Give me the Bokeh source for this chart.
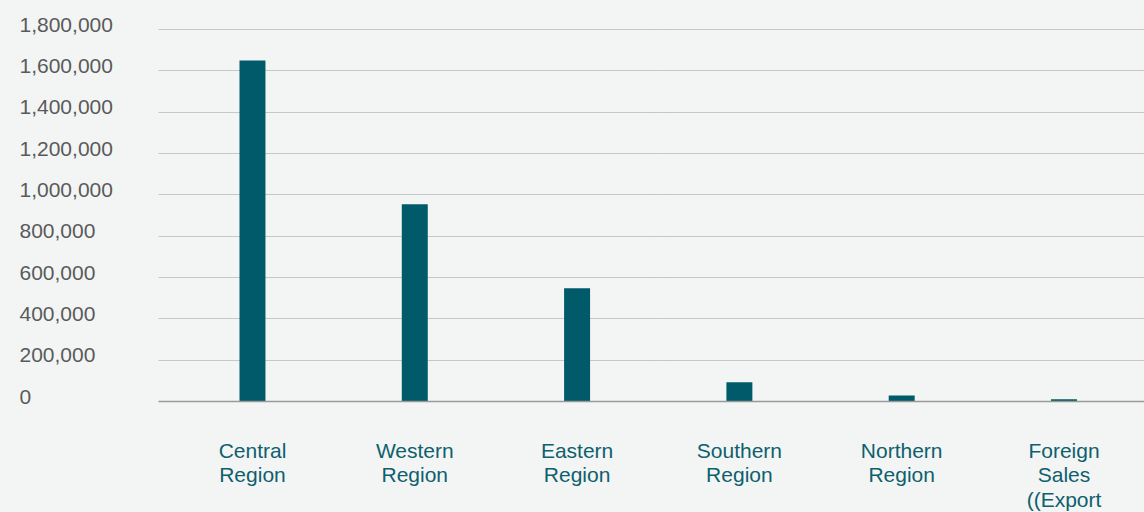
from bokeh.plotting import figure
from bokeh.models import (Range1d, FixedTicker, ColumnDataSource,
                          GlobalInlineStyleSheet)
from bokeh.layouts import row
from bokeh.core.properties import value
from bokeh.embed import file_html
from bokeh.resources import INLINE

categories = ["Central\nRegion", "Western\nRegion", "Eastern\nRegion",
              "Southern\nRegion", "Northern\nRegion", "Foreign\nSales\n((Export"]
values = [1650000, 955000, 548000, 93000, 29000, 11000]
y_ticks = [0, 200000, 400000, 600000, 800000, 1000000, 1200000, 1400000, 1600000, 1800000]
y_tick_labels = ["0", "200,000", "400,000", "600,000", "800,000", "1,000,000",
                 "1,200,000", "1,400,000", "1,600,000", "1,800,000"]

BG = "#f3f5f4"
BAR = "#015a6a"
XLAB = "#0f5f6e"
YLAB = "#5a5a5a"
FONT = "Liberation Sans"

# layout (pixels)
LEFT_W = 158          # width of the label column
FRAME_W = 986         # plot area width
FRAME_H = 401         # plot area height (top of page to zero line)
TOP_GAP = 29          # space above the top gridline
LEFT_EXTRA = 30       # label column reaches a little below the zero line
Y_MAX = y_ticks[-1]
ppu = (FRAME_H - TOP_GAP) / Y_MAX          # pixels per unit
y_end = FRAME_H / ppu

x = list(range(len(categories)))
src = ColumnDataSource(dict(x=x, top=values))
ysrc = ColumnDataSource(dict(x=[0] * len(y_ticks), y=y_ticks, label=y_tick_labels))

# ---- label column (y tick labels, left aligned) ----
pl = figure(frame_width=LEFT_W, frame_height=FRAME_H + LEFT_EXTRA, output_backend="svg",
            toolbar_location=None, x_range=Range1d(-19, LEFT_W - 19),
            y_range=Range1d(-LEFT_EXTRA / ppu, y_end),
            min_border_left=0, min_border_right=0, min_border_top=0, min_border_bottom=0)
pl.background_fill_color = BG
pl.border_fill_color = BG
pl.outline_line_color = None
pl.axis.visible = False
pl.grid.visible = False
pl.text(x="x", y="y", text="label", source=ysrc, text_align="left",
        text_baseline="middle", y_offset=-5,
        text_font=value(FONT), text_font_size="21px", text_color=YLAB)

# ---- main chart ----
p = figure(frame_width=FRAME_W, frame_height=FRAME_H, output_backend="svg",
           toolbar_location=None, x_range=Range1d(-0.579, 5.496), y_range=Range1d(0, y_end),
           min_border_left=0, min_border_right=0, min_border_top=0, min_border_bottom=100)
p.background_fill_color = BG
p.border_fill_color = BG
p.outline_line_color = None

p.vbar(x="x", top="top", width=0.16, source=src, fill_color=BAR, line_color=None)

p.xgrid.grid_line_color = None
p.ygrid.ticker = FixedTicker(ticks=y_ticks)
p.ygrid.grid_line_color = "#999999"
p.ygrid.grid_line_dash = "1 1"
p.ygrid.grid_line_width = 1

p.yaxis.visible = False

p.xaxis.ticker = FixedTicker(ticks=x)
p.xaxis.major_label_overrides = {i: c for i, c in enumerate(categories)}
p.xaxis.axis_line_color = "#999999"
p.xaxis.axis_line_width = 1.5
p.xaxis.major_tick_line_color = None
p.xaxis.minor_tick_line_color = None
p.xaxis.major_label_text_font = FONT
p.xaxis.major_label_text_font_size = "21px"
p.xaxis.major_label_text_color = XLAB
p.xaxis.major_label_text_line_height = 1.08
p.xaxis.major_label_standoff = 31

layout = row(pl, p, spacing=0)
layout.stylesheets = [GlobalInlineStyleSheet(
    css="html, body {background:%s; margin:0; padding:0; overflow:hidden;}" % BG)]

open("out.html", "w").write(file_html(layout, INLINE))
